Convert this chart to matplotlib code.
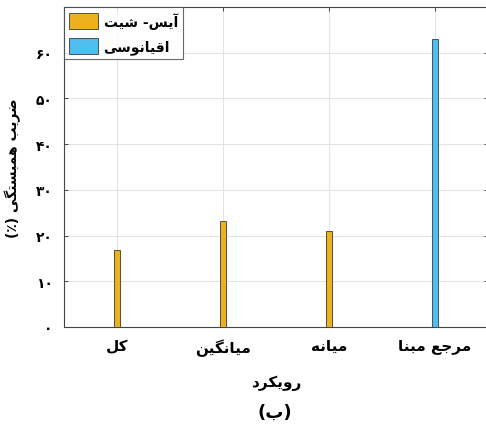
import matplotlib.pyplot as plt

# data
categories = ['کل', 'میانگین', 'میانه', 'مرجع مبنا']
ice_sheet_pos = [1, 2, 3]
ice_sheet_vals = [16.9, 23.1, 21.1]
ocean_pos = [4]
ocean_vals = [63.1]
y_ticks = [0, 10, 20, 30, 40, 50, 60]
y_tick_labels = ['۰', '۱۰', '۲۰', '۳۰', '۴۰', '۵۰', '۶۰']

series_names = ['آیس- شیت', 'اقیانوسی']
x_label = 'رویکرد'
y_label = 'ضریب همبستگی (٪)'
caption = '(ب)'

# matplotlib has no arabic shaping, so pick the presentation forms by hand
# (isolated, final, initial, medial); None = letter does not join forward
FORMS = {
    'ا': ('\uFE8D', '\uFE8E', None, None),
    'آ': ('\uFE81', '\uFE82', None, None),
    'ب': ('\uFE8F', '\uFE90', '\uFE91', '\uFE92'),
    'ت': ('\uFE95', '\uFE96', '\uFE97', '\uFE98'),
    'ج': ('\uFE9D', '\uFE9E', '\uFE9F', '\uFEA0'),
    'د': ('\uFEA9', '\uFEAA', None, None),
    'ر': ('\uFEAD', '\uFEAE', None, None),
    'س': ('\uFEB1', '\uFEB2', '\uFEB3', '\uFEB4'),
    'ش': ('\uFEB5', '\uFEB6', '\uFEB7', '\uFEB8'),
    'ض': ('\uFEBD', '\uFEBE', '\uFEBF', '\uFEC0'),
    'ع': ('\uFEC9', '\uFECA', '\uFECB', '\uFECC'),
    'ق': ('\uFED5', '\uFED6', '\uFED7', '\uFED8'),
    'ل': ('\uFEDD', '\uFEDE', '\uFEDF', '\uFEE0'),
    'م': ('\uFEE1', '\uFEE2', '\uFEE3', '\uFEE4'),
    'ن': ('\uFEE5', '\uFEE6', '\uFEE7', '\uFEE8'),
    'ه': ('\uFEE9', '\uFEEA', '\uFEEB', '\uFEEC'),
    'و': ('\uFEED', '\uFEEE', None, None),
    'ک': ('\uFB8E', '\uFB8F', '\uFB90', '\uFB91'),
    'گ': ('\uFB92', '\uFB93', '\uFB94', '\uFB95'),
    'ی': ('\uFBFC', '\uFBFD', '\uFBFE', '\uFBFF'),
}
MIRROR = {'(': ')', ')': '('}


def rtl(text):
    out = []
    for i, ch in enumerate(text):
        if ch not in FORMS:
            out.append(ch)
            continue
        prev = text[i - 1] if i > 0 else ''
        nxt = text[i + 1] if i + 1 < len(text) else ''
        join_prev = prev in FORMS and FORMS[prev][2] is not None
        join_next = nxt in FORMS and FORMS[ch][2] is not None
        iso, fin, ini, med = FORMS[ch]
        if join_prev and join_next:
            out.append(med)
        elif join_prev:
            out.append(fin)
        elif join_next:
            out.append(ini)
        else:
            out.append(iso)
    return ''.join(MIRROR.get(c, c) for c in reversed(out))


plt.rcParams['font.family'] = ['DejaVu Sans']

fig = plt.figure(figsize=(4.86, 4.27), dpi=100)
ax = fig.add_axes([0.1317, 0.232, 0.872, 0.749])

bar_w = 0.06
ax.bar(ice_sheet_pos, ice_sheet_vals, width=bar_w, color='#EDB120',
       edgecolor='#3a3a3a', linewidth=0.6, label=rtl(series_names[0]), zorder=3)
ax.bar(ocean_pos, ocean_vals, width=bar_w, color='#4DBEEE',
       edgecolor='#3a3a3a', linewidth=0.6, label=rtl(series_names[1]), zorder=3)

ax.set_xlim(0.5, 4.5)
ax.set_ylim(0, 70)
ax.set_xticks(range(1, len(categories) + 1))
ax.set_xticklabels([rtl(c) for c in categories], fontsize=11, fontweight='bold')
ax.set_yticks(y_ticks)
ax.set_yticklabels(y_tick_labels, fontsize=10, fontweight='bold')

ax.grid(True, color='#e3e3e3', linewidth=0.7, zorder=0)
ax.tick_params(direction='in', top=True, right=True, length=3,
               color='#444444', width=0.7)
ax.tick_params(axis='x', pad=8)
ax.tick_params(axis='y', pad=8)
for s in ax.spines.values():
    s.set_color('#444444')
    s.set_linewidth(0.8)

ax.set_xlabel(rtl(x_label), fontsize=11, fontweight='bold', labelpad=14)
ax.set_ylabel(rtl(y_label), fontsize=10, fontweight='bold', labelpad=11)

leg = ax.legend(loc='upper left', prop={'weight': 'bold', 'size': 10},
                frameon=True, fancybox=False, edgecolor='#444444',
                borderaxespad=0, handlelength=2.1, handleheight=1.4,
                handletextpad=0.4, borderpad=0.35, labelspacing=0.6)
leg.get_frame().set_linewidth(0.8)

fig.text(0.565, 0.033, rtl(caption), ha='center', va='center',
         fontsize=13, fontweight='bold')

fig.savefig('out.png', dpi=100)
